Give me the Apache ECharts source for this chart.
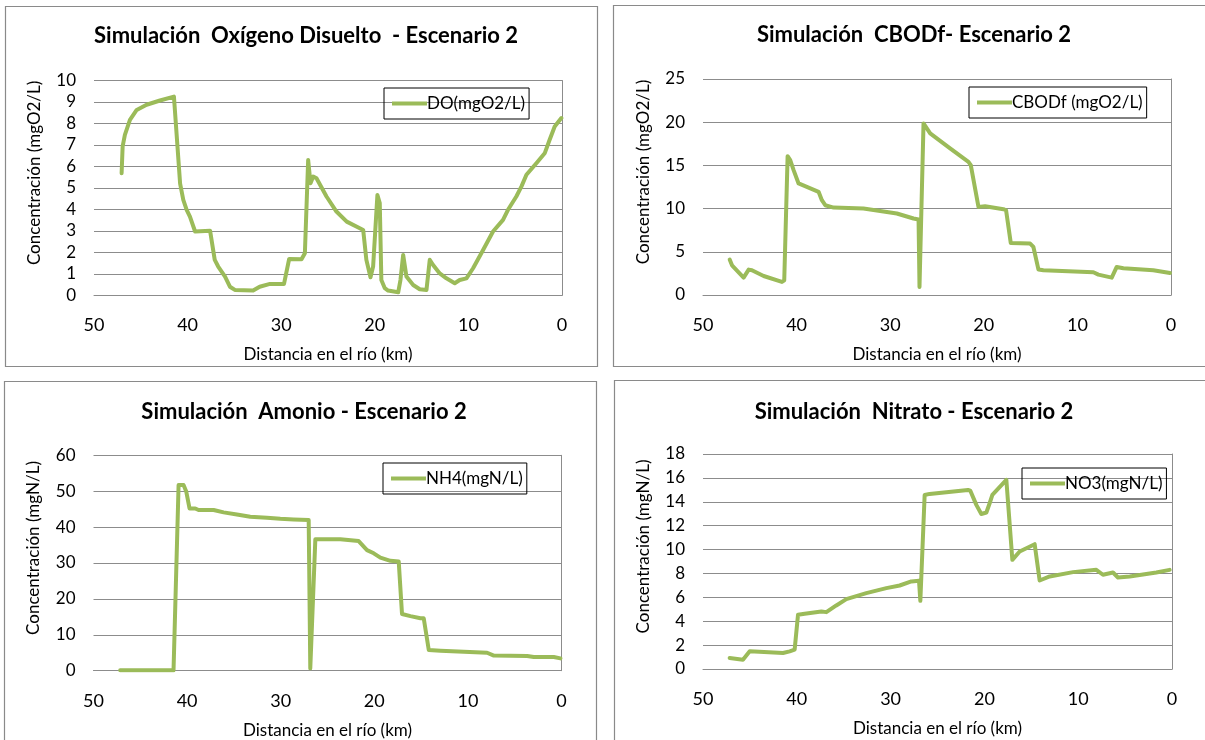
<!DOCTYPE html>
<html>
<head>
<meta charset="utf-8">
<script src="https://cdn.jsdelivr.net/npm/echarts@6/dist/echarts.min.js"></script>
<style>
html,body{margin:0;padding:0;background:#fff;}
#c{width:1205px;height:740px;}
</style>
</head>
<body>
<div id="c"></div>
<script>
// ---- Data (distance in km, concentration) ----
var xTicks = [50, 40, 30, 20, 10, 0];

var titles = [
  'Simulación  Oxígeno Disuelto  - Escenario 2',
  'Simulación  CBODf- Escenario 2',
  'Simulación  Amonio - Escenario 2',
  'Simulación  Nitrato - Escenario 2'
];
var seriesNames = ['DO(mgO2/L)', 'CBODf (mgO2/L)', 'NH4(mgN/L)', 'NO3(mgN/L)'];
var yTitles = ['Concentración (mgO2/L)', 'Concentración (mgO2/L)', 'Concentración (mgN/L)', 'Concentración (mgN/L)'];
var xTitle = 'Distancia en el río (km)';

var doKm  = [47.05,46.94,46.7,46.16,45.44,44.38,42.95,41.46,41.25,40.8,40.46,40.1,39.75,39.2,37.6,37.44,37.1,36.73,36.0,35.48,34.95,33.0,32.3,31.2,29.7,29.5,29.15,27.83,27.47,27.12,26.87,26.58,26.23,25.16,24.1,23.0,21.6,21.24,20.9,20.46,20.18,19.72,19.47,19.3,18.93,18.58,17.5,17.26,16.97,16.62,15.9,15.2,14.48,14.13,13.77,13.06,12.35,11.46,10.93,10.21,9.5,8.43,7.37,6.3,5.77,4.88,4.34,3.8,2.74,1.85,1.32,0.78,0.07];
var doVal = [5.68,6.93,7.47,8.17,8.63,8.87,9.07,9.25,9.18,5.2,4.44,3.98,3.66,2.97,3.01,2.97,1.65,1.34,0.87,0.40,0.25,0.22,0.40,0.53,0.53,0.56,1.69,1.68,1.96,6.30,5.22,5.53,5.45,4.60,3.9,3.43,3.12,3.04,1.65,0.84,1.34,4.67,4.29,0.71,0.33,0.22,0.14,0.71,1.88,0.87,0.48,0.28,0.25,1.65,1.41,1.02,0.79,0.56,0.71,0.79,1.26,2.11,2.97,3.51,3.98,4.60,5.06,5.61,6.15,6.61,7.24,7.86,8.25];

var cbKm  = [47.15,46.9,45.66,45.12,44.77,43.52,41.57,41.32,40.96,40.68,40.32,39.79,37.65,37.3,36.94,36.05,32.85,29.29,27.51,26.97,26.87,26.44,25.73,23.6,21.64,21.39,20.57,19.86,17.9,17.62,17.12,15.05,14.7,14.16,13.63,8.29,7.76,6.33,5.8,5.09,1.89,0.11];
var cbVal = [4.10,3.44,2.01,2.94,2.86,2.20,1.51,1.70,16.07,15.61,14.45,12.91,11.94,10.97,10.39,10.12,10.01,9.43,8.85,8.73,0.93,19.86,18.70,16.96,15.42,15.03,10.20,10.28,9.93,9.81,6.03,5.95,5.56,2.94,2.86,2.63,2.36,2.01,3.25,3.09,2.86,2.55];

var nhKm  = [47.15,41.45,40.91,40.38,40.09,39.74,39.13,38.77,37.17,36.1,34.68,33.25,31.47,30.04,28.62,27.01,26.84,26.3,23.63,21.67,20.78,20.06,19.35,18.28,17.39,17.04,16.14,15.07,14.72,14.18,12.94,10.44,7.95,7.23,3.67,2.96,0.82,0.11];
var nhVal = [0.1,0.1,51.7,51.7,49.9,45.2,45.2,44.75,44.75,44.1,43.5,42.9,42.6,42.3,42.15,42.0,0.65,36.6,36.6,36.1,33.6,32.7,31.5,30.6,30.4,15.8,15.2,14.6,14.6,5.76,5.57,5.3,5.0,4.2,4.1,3.8,3.8,3.44];

var noKm  = [47.16,45.74,45.02,41.47,40.76,40.23,39.87,39.16,37.38,36.85,35.79,34.72,32.59,30.45,29.03,27.79,26.97,26.83,26.37,25.84,21.75,21.5,20.86,20.33,19.79,19.44,19.15,17.66,17.48,17.02,16.24,14.64,14.46,14.11,13.04,10.55,8.07,7.36,6.29,5.76,4.51,1.67,0.25];
var noVal = [0.92,0.78,1.48,1.34,1.48,1.62,4.54,4.63,4.82,4.76,5.32,5.85,6.35,6.77,6.99,7.33,7.38,5.71,14.57,14.66,14.99,14.93,13.74,12.98,13.1,13.88,14.57,15.83,15.88,9.14,9.84,10.45,10.34,7.41,7.75,8.11,8.3,7.89,8.08,7.66,7.75,8.08,8.30];

var yMax = [10, 25, 60, 18];
var yInterval = [1, 5, 10, 2];

// ---- Layout ----
var FONT = 'Lato, "Open Sans", sans-serif';
var GREEN = '#9BBB59';
var GRIDC = '#8c8c8c';

var grids = [
  {left: 94,  top: 80.5, width: 468, height: 214.8},
  {left: 703, top: 79,   width: 468, height: 216},
  {left: 93.5,top: 455.3,width: 468, height: 215.4},
  {left: 703, top: 454,  width: 469, height: 215}
];
var titlePos = [{x: 301, y: 20}, {x: 909, y: 19}, {x: 299, y: 396}, {x: 909, y: 396}];
var legendPos = [{x: 384, y: 88}, {x: 969, y: 87}, {x: 383, y: 463}, {x: 1022, y: 468}];
var panels = [
  {x: 5.5, y: 6.5, w: 592, h: 360},
  {x: 613.5, y: 5.5, w: 600, h: 361},
  {x: 4.5, y: 381.5, w: 592, h: 370},
  {x: 614.5, y: 380.5, w: 600, h: 370}
];

function zip(a, b) { var r = []; for (var i = 0; i < a.length; i++) r.push([a[i], b[i]]); return r; }
var datasets = [zip(doKm, doVal), zip(cbKm, cbVal), zip(nhKm, nhVal), zip(noKm, noVal)];

var option = {
  animation: false,
  backgroundColor: '#fff',
  textStyle: {fontFamily: FONT},
  title: [], legend: [], grid: [], xAxis: [], yAxis: [], series: [],
  graphic: []
};

for (var i = 0; i < 4; i++) {
  option.graphic.push({
    type: 'rect', silent: true, z: -1,
    shape: {x: panels[i].x, y: panels[i].y, width: panels[i].w, height: panels[i].h},
    style: {fill: '#fff', stroke: '#8a8a8a', lineWidth: 1.2}
  });
  option.title.push({
    text: titles[i], left: titlePos[i].x, top: titlePos[i].y, textAlign: 'center',
    textStyle: {fontFamily: FONT, fontWeight: 'bold', fontSize: 22, color: '#000'}
  });
  option.grid.push(grids[i]);
  option.xAxis.push({
    type: 'value', gridIndex: i, min: 0, max: 50, interval: 10, inverse: true,
    name: xTitle, nameLocation: 'middle', nameGap: 51,
    nameTextStyle: {fontFamily: FONT, fontSize: 17, color: '#000'},
    axisLine: {show: true, onZero: false, lineStyle: {color: GRIDC, width: 1}},
    axisTick: {show: false},
    splitLine: {show: false},
    axisLabel: {margin: 21, fontSize: 18, color: '#000', fontFamily: FONT}
  });
  option.yAxis.push({
    type: 'value', gridIndex: i, min: 0, max: yMax[i], interval: yInterval[i],
    name: yTitles[i], nameLocation: 'middle', nameGap: 51,
    nameTextStyle: {fontFamily: FONT, fontSize: 17, color: '#000', padding: [0, 0, 0, 30]},
    axisLine: {show: true, lineStyle: {color: GRIDC, width: 1}},
    axisTick: {show: true, length: 6, lineStyle: {color: GRIDC}},
    splitLine: {show: true, lineStyle: {color: GRIDC, width: 1}},
    axisLabel: {margin: 18, fontSize: 17, color: '#000', fontFamily: FONT}
  });
  option.legend.push({
    left: legendPos[i].x, top: legendPos[i].y,
    data: [{name: seriesNames[i], icon: 'rect'}],
    borderColor: '#000', borderWidth: 1, borderRadius: 0,
    padding: [7, 4, 7, 8],
    itemWidth: 35, itemHeight: 4, itemGap: 0,
    itemStyle: {color: GREEN},
    textStyle: {fontFamily: FONT, fontSize: 17, color: '#000', padding: [0, 0, 0, -5]}
  });
  option.series.push({
    type: 'line', name: seriesNames[i], xAxisIndex: i, yAxisIndex: i,
    data: datasets[i], showSymbol: false, symbol: 'none',
    lineStyle: {color: GREEN, width: 4, join: 'round', cap: 'round'},
    itemStyle: {color: GREEN}
  });
}

var chart = echarts.init(document.getElementById('c'), null, {renderer: 'canvas'});
chart.setOption(option);
</script>
</body>
</html>
